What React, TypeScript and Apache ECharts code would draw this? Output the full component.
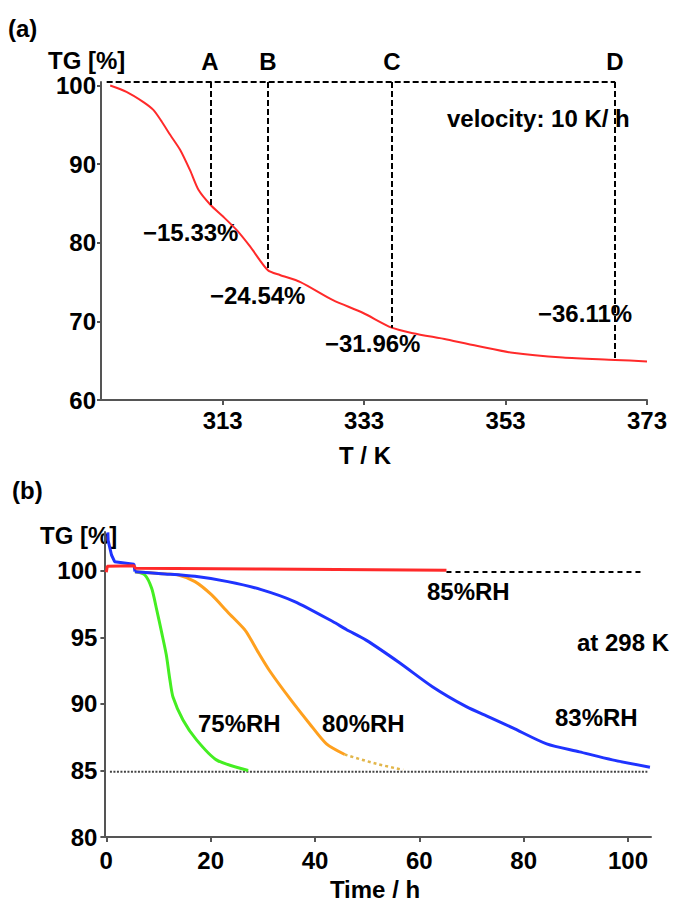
import React, { useEffect, useRef } from "react";
import * as echarts from "echarts";

// ---------- (a) TG vs temperature ----------
const topT = [297.1, 299.4, 301.8, 303.2, 304.4, 305.6, 307.0, 308.4, 309.6, 311.3, 313.1, 315.0, 316.9, 319.4, 321.1, 324.0, 328.6, 332.8, 336.9, 339.9, 344.7, 349.4, 354.0, 361.1, 368.5, 373.0];
const topTG = [100.0, 99.2, 97.9, 96.9, 95.4, 93.7, 91.8, 89.2, 86.7, 84.8, 83.3, 81.6, 79.5, 76.5, 75.9, 75.0, 72.7, 71.1, 69.2, 68.5, 67.7, 66.8, 66.0, 65.4, 65.1, 64.9];
const markerLetters = ["A", "B", "C", "D"];
const markerT = [311.3, 319.4, 336.9, 368.5];
const markerTG = [84.8, 76.5, 69.2, 65.1];
const lossLabels = ["−15.33%", "−24.54%", "−31.96%", "−36.11%"];
const topXTicks = [313, 333, 353, 373];
const topYTicks = [60, 70, 80, 90, 100];

// ---------- (b) TG vs time ----------
const redT = [0, 0.2, 5.3, 5.6, 30, 65.2];
const redTG = [99.9, 100.35, 100.4, 100.2, 100.15, 100.05];
const blueStartT = [0.3, 0.35, 1.0, 1.6, 5.3, 5.5];
const blueStartTG = [102.9, 102.3, 101.2, 100.7, 100.5, 99.95];
const blueT = [5.5, 10.6, 17.0, 23.3, 29.7, 36.1, 43.4, 46.0, 49.8, 56.2, 62.5, 69.0, 73.5, 77.9, 84.4, 90.7, 97.0, 104.2];
const blueTG = [99.95, 99.8, 99.6, 99.2, 98.6, 97.7, 96.2, 95.6, 94.8, 93.1, 91.3, 89.8, 89.0, 88.2, 87.0, 86.4, 85.8, 85.25];
const greenT = [5.5, 7.4, 8.7, 9.6, 10.6, 11.5, 12.2, 12.8, 14.7, 17.3, 21.1, 27.2];
const greenTG = [99.95, 99.7, 98.7, 97.2, 95.4, 93.7, 91.8, 90.5, 88.8, 87.3, 85.8, 85.0];
const orangeT = [5.5, 10.6, 13.8, 17.0, 20.2, 23.3, 26.5, 27.5, 29.1, 31.3, 35.2, 39.0, 42.2, 45.7];
const orangeTG = [99.95, 99.8, 99.7, 99.2, 98.2, 96.9, 95.6, 95.0, 93.9, 92.5, 90.4, 88.5, 87.0, 86.2];
const orangeDotT = [45.7, 51.8, 56.9];
const orangeDotTG = [86.2, 85.5, 85.05];
const rhDashT = [65.2, 102.8];
const rhDashTG = [99.93, 99.93];
const baseT = [0.7, 103.7];
const baseTG = [84.9, 84.9];
const botXTicks = [0, 20, 40, 60, 80, 100];
const botYTicks = [80, 85, 90, 95, 100];

const FONT = "'Liberation Sans', Arial, Helvetica, sans-serif";
const zip = (a: number[], b: number[]) => a.map((v, i) => [v, b[i]]);

const txt = (text: string, x: number, y: number, align: string = "left") => ({
  type: "text",
  x,
  y,
  style: {
    text,
    fill: "#000",
    font: `bold 24px ${FONT}`,
    textAlign: align,
    textVerticalAlign: "middle",
  },
});

export default function App() {
  const ref = useRef<HTMLDivElement>(null);
  useEffect(() => {
    if (!ref.current) return;
    const chart = echarts.init(ref.current, undefined, { renderer: "svg" });
    const axisLine = { show: true, onZero: false, lineStyle: { color: "#555", width: 2 } };
    const labelStyle = { color: "#000", fontSize: 24, fontWeight: "bold", fontFamily: FONT };
    const line2 = (data: number[][], color: string, width: number, smooth: number, type: any = "solid") => ({
      type: "line", xAxisIndex: 1, yAxisIndex: 1, data,
      showSymbol: false, symbol: "none", smooth,
      lineStyle: { color, width, type },
    });

    const option: any = {
      animation: false,
      backgroundColor: "#fff",
      grid: [
        { left: 101, top: 82, width: 546, height: 318 },
        { left: 104.4, top: 532, width: 546.6, height: 305 },
      ],
      xAxis: [
        {
          gridIndex: 0, type: "value", min: 295.8, max: 373,
          axisLine, splitLine: { show: false },
          axisTick: { show: true, length: 5, lineStyle: { color: "#555", width: 2 }, customValues: topXTicks },
          axisLabel: { ...labelStyle, margin: 8, customValues: topXTicks },
        },
        {
          gridIndex: 1, type: "value", min: -0.36, max: 104.4,
          axisLine, splitLine: { show: false },
          axisTick: { show: true, length: 5, lineStyle: { color: "#555", width: 2 }, customValues: botXTicks },
          axisLabel: { ...labelStyle, margin: 11, customValues: botXTicks },
        },
      ],
      yAxis: [
        {
          gridIndex: 0, type: "value", min: 60, max: 100.45,
          axisLine, splitLine: { show: false },
          axisTick: { show: true, length: 4, lineStyle: { color: "#555", width: 2 }, customValues: topYTicks },
          axisLabel: { ...labelStyle, margin: 5, customValues: topYTicks },
        },
        {
          gridIndex: 1, type: "value", min: 80, max: 102.93,
          axisLine, splitLine: { show: false },
          axisTick: { show: true, length: 4, lineStyle: { color: "#555", width: 2 }, customValues: botYTicks },
          axisLabel: { ...labelStyle, margin: 7, customValues: botYTicks },
        },
      ],
      series: [
        {
          type: "line", xAxisIndex: 0, yAxisIndex: 0, data: zip(topT, topTG),
          showSymbol: false, symbol: "none", smooth: 0.25,
          lineStyle: { color: "#ff2a2a", width: 2 }, z: 3,
          markLine: {
            silent: true, symbol: ["none", "none"], label: { show: false },
            lineStyle: { type: [6, 3], color: "#000", width: 2 },
            data: [
              [{ coord: [296.6, 100.45] }, { coord: [markerT[3], 100.45] }],
              ...markerT.map((t, i) => [{ coord: [t, 100.45] }, { coord: [t, markerTG[i]] }]),
            ],
          },
        },
        line2(zip(baseT, baseTG), "#444", 2, 0, [2, 1.5]),
        line2(zip(orangeDotT, orangeDotTG), "#e2b64a", 2.5, 0.3, [3, 3]),
        line2(zip(greenT, greenTG), "#44ee22", 3, 0.25),
        line2(zip(orangeT, orangeTG), "#ffa01e", 3, 0.25),
        line2(zip(blueStartT, blueStartTG), "#1f33ff", 3, 0),
        line2(zip(blueT, blueTG), "#1f33ff", 3, 0.25),
        line2(zip(redT, redTG), "#ff2a2a", 3, 0),
        line2(zip(rhDashT, rhDashTG), "#000", 2, 0, [5, 4]),
      ],
      graphic: [
        txt("(a)", 8, 28),
        txt("TG [%]", 48, 60),
        txt(markerLetters[0], 210, 61, "center"),
        txt(markerLetters[1], 268, 61, "center"),
        txt(markerLetters[2], 392, 61, "center"),
        txt(markerLetters[3], 615, 61, "center"),
        txt("velocity: 10 K/ h", 447, 118),
        txt(lossLabels[0], 143, 232),
        txt(lossLabels[1], 210, 295),
        txt(lossLabels[2], 325, 343),
        txt(lossLabels[3], 538, 313),
        txt("T / K", 365, 455, "center"),
        txt("(b)", 12, 490),
        txt("TG [%]", 40, 535),
        txt("85%RH", 427, 591),
        txt("at 298 K", 577, 642),
        txt("75%RH", 198, 723),
        txt("80%RH", 322, 723),
        txt("83%RH", 555, 717),
        txt("Time / h", 375, 889, "center"),
      ],
    };
    chart.setOption(option);
    return () => chart.dispose();
  }, []);
  return (
    <div
      ref={ref}
      style={{ position: "fixed", left: 0, top: 0, width: 675, height: 904, background: "#fff" }}
    />
  );
}
